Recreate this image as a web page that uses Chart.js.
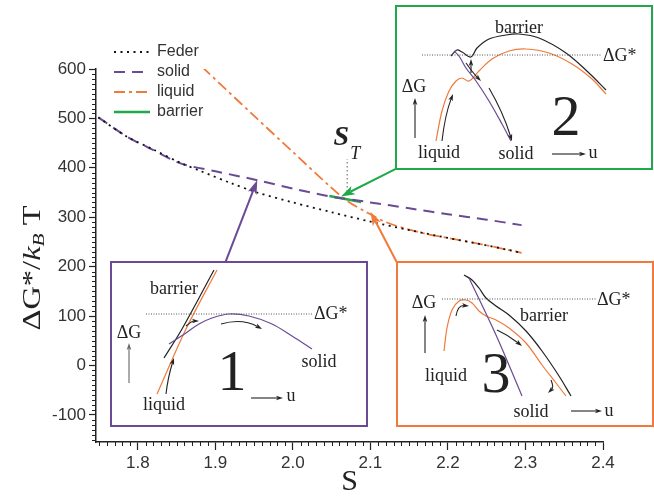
<!DOCTYPE html>
<html>
<head>
<meta charset="utf-8">
<script src="https://cdn.jsdelivr.net/npm/chart.js@4.4.1/dist/chart.umd.min.js"></script>
<style>
  html, body { margin: 0; padding: 0; background: #fff; }
  #wrap { position: relative; width: 654px; height: 496px; overflow: hidden; }
  canvas { position: absolute; }
</style>
</head>
<body>
<div id="wrap">
  <canvas id="main" width="654" height="496" style="left:0;top:0"></canvas>
  <canvas id="in1" width="258" height="166" style="left:110px;top:261px"></canvas>
  <canvas id="in2" width="258" height="165" style="left:395px;top:5px"></canvas>
  <canvas id="in3" width="258" height="166" style="left:396px;top:261px"></canvas>
</div>
<script>
// ---- main plot data ----
const xTicks = [1.8, 1.9, 2.0, 2.1, 2.2, 2.3, 2.4];
const yTicks = [-100, 0, 100, 200, 300, 400, 500, 600];

const sFeder = [1.749, 1.786, 1.82, 1.855, 1.88, 1.92, 1.954, 2.0, 2.05, 2.1, 2.15, 2.2, 2.25, 2.295];
const gFeder = [502, 463, 437, 410, 394, 369, 350, 330, 310, 291, 274, 258, 243, 228];

const sSolid = [1.749, 1.786, 1.816, 1.855, 1.9, 1.954, 2.0, 2.048, 2.1, 2.15, 2.2, 2.25, 2.295];
const gSolid = [502, 463, 439, 409, 393, 375, 358, 342, 330, 318, 306, 295, 284];

const sLiquid = [1.883, 1.95, 2.0, 2.048, 2.07, 2.095, 2.12, 2.147, 2.17, 2.2, 2.25, 2.295];
const gLiquid = [604, 505, 432, 362, 333, 310, 290, 276, 267, 258, 243, 228];

const sBarrier = [2.047, 2.088];
const gBarrier = [343, 331];

const sT = 2.07;
const gSTline = [352, 418];

// arrows from the insets to the curves (S, G)
const arrowTail = [[1.913, 209], [2.134, 399], [2.134, 209]];
const arrowTip  = [[1.954, 375], [2.062, 342], [2.100, 311]];

// ---- inset data (schematic units: u to the right, G up, box corner = 0) ----
const in1SolidU  = [59, 76, 89, 102, 119, 139, 162, 182, 202];
const in1SolidG  = [83, 94, 103, 109, 113, 111, 103, 91, 78];
const in1LiquidU = [47, 76, 107];
const in1LiquidG = [33, 98, 157];
const in1BarrU   = [54, 72, 104];
const in1BarrG   = [69, 98, 157];

const in2LiquidU = [41, 47, 54, 61, 67, 74, 84, 97, 114, 131, 154, 177, 197, 211];
const in2LiquidG = [29, 59, 79, 89, 92, 89, 99, 111, 119, 121, 117, 106, 91, 76];
const in2BarrU   = [56, 62, 67, 76, 82, 94, 111, 124, 144, 171, 194, 211];
const in2BarrG   = [114, 120, 118, 113, 122, 131, 135, 136, 132, 117, 97, 80];
const in2SolidU  = [59, 64, 71, 81, 94, 107, 116];
const in2SolidG  = [119, 114, 102, 89, 69, 46, 29];

const in3LiquidU = [48, 51, 56, 63, 70, 76, 83, 90, 100, 113, 130, 146, 160, 170];
const in3LiquidG = [76, 99, 117, 126, 127, 124, 116, 111, 107, 99, 84, 62, 44, 31];
const in3BarrU   = [68, 76, 83, 90, 100, 113, 130, 146, 163, 175];
const in3BarrG   = [152, 147, 139, 129, 121, 112, 96, 76, 51, 31];
const in3SolidU  = [73, 100, 126];
const in3SolidG  = [149, 92, 31];

const SANS = "'Liberation Sans', Arial, sans-serif";
const SERIF = "'Liberation Serif', 'Times New Roman', serif";
const PURPLE = '#6a4a94';
const ORANGE = '#ef7a3a';
const GREEN = '#1faa4a';
const INK = '#222';

const pts = (xs, ys) => xs.map((x, i) => ({ x, y: ys[i] }));

function arrow(ctx, x0, y0, x1, y1, color, w, head, cx, cy) {
  // optional control point (cx, cy) gives a curved shaft
  const a = cx === undefined ? Math.atan2(y1 - y0, x1 - x0) : Math.atan2(y1 - cy, x1 - cx);
  const bx = x1 - head * 0.75 * Math.cos(a), by = y1 - head * 0.75 * Math.sin(a);
  ctx.save();
  ctx.strokeStyle = color; ctx.fillStyle = color; ctx.lineWidth = w; ctx.setLineDash([]);
  ctx.beginPath();
  ctx.moveTo(x0, y0);
  if (cx === undefined) ctx.lineTo(bx, by); else ctx.quadraticCurveTo(cx, cy, bx, by);
  ctx.stroke();
  ctx.beginPath();
  ctx.moveTo(x1, y1);
  ctx.lineTo(x1 - head * Math.cos(a) + head * 0.33 * Math.sin(a), y1 - head * Math.sin(a) - head * 0.33 * Math.cos(a));
  ctx.lineTo(bx, by);
  ctx.lineTo(x1 - head * Math.cos(a) - head * 0.33 * Math.sin(a), y1 - head * Math.sin(a) + head * 0.33 * Math.cos(a));
  ctx.closePath();
  ctx.fill();
  ctx.restore();
}

// ---- main chart decorations ----
const deco = {
  id: 'deco',
  afterDraw(chart) {
    const ctx = chart.ctx, xs = chart.scales.x, ys = chart.scales.y;
    const { left, bottom } = chart.chartArea;
    ctx.save();
    // minor ticks
    ctx.strokeStyle = INK; ctx.lineWidth = 1;
    ctx.beginPath();
    for (let k = 175; k <= 240; k++) {
      if (k % 10 === 0) continue;
      const px = Math.round(xs.getPixelForValue(k / 100)) + 0.5;
      ctx.moveTo(px, bottom); ctx.lineTo(px, bottom + 4);
    }
    for (let k = -15; k <= 60; k++) {
      if (k % 10 === 0) continue;
      const py = Math.round(ys.getPixelForValue(k * 10)) + 0.5;
      ctx.moveTo(left, py); ctx.lineTo(left - 4, py);
    }
    ctx.stroke();

    // S_T marker
    const xT = xs.getPixelForValue(sT);
    ctx.strokeStyle = '#777'; ctx.lineWidth = 1.2; ctx.setLineDash([1.5, 2.5]);
    ctx.beginPath();
    ctx.moveTo(xT, ys.getPixelForValue(gSTline[0]));
    ctx.lineTo(xT, ys.getPixelForValue(gSTline[1]));
    ctx.stroke();
    ctx.setLineDash([]);
    ctx.fillStyle = INK;
    ctx.textAlign = 'center'; ctx.textBaseline = 'middle';
    ctx.font = `italic bold 28px ${SERIF}`;
    ctx.fillText('S', xT - 6, 138);
    ctx.font = `italic 18px ${SERIF}`;
    ctx.fillText('T', xT + 8, 154);

    // arrows from the insets
    const cols = [PURPLE, GREEN, ORANGE];
    arrowTail.forEach((t, i) => {
      arrow(ctx, xs.getPixelForValue(t[0]), ys.getPixelForValue(t[1]),
        xs.getPixelForValue(arrowTip[i][0]), ys.getPixelForValue(arrowTip[i][1]), cols[i], 2, 14);
    });

    // legend
    ctx.textAlign = 'left'; ctx.textBaseline = 'middle';
    ctx.font = `16px ${SANS}`;
    chart.data.datasets.forEach((ds, i) => {
      const y = 52 + i * 20;
      ctx.strokeStyle = ds.borderColor; ctx.lineWidth = ds.borderWidth;
      ctx.setLineDash(ds.borderDash || []);
      ctx.beginPath(); ctx.moveTo(114, y); ctx.lineTo(150, y); ctx.stroke();
      ctx.setLineDash([]);
      ctx.fillStyle = '#333';
      ctx.fillText(ds.label, 157, y);
    });

    // x title
    ctx.fillStyle = INK;
    ctx.textAlign = 'center'; ctx.textBaseline = 'middle';
    ctx.font = `30px ${SERIF}`;
    ctx.fillText('S', (chart.chartArea.left + chart.chartArea.right) / 2, 482);

    // y title: ΔG*/k_B T
    ctx.translate(33, 268); ctx.rotate(-Math.PI / 2); ctx.scale(1.25, 1);
    const parts = [
      { t: 'ΔG*/', f: `26px ${SERIF}`, dy: 0 },
      { t: 'k', f: `italic 26px ${SERIF}`, dy: 0 },
      { t: 'B', f: `italic 17px ${SERIF}`, dy: 7 },
      { t: ' T', f: `26px ${SERIF}`, dy: 0 }
    ];
    let total = 0;
    parts.forEach(p => { ctx.font = p.f; p.w = ctx.measureText(p.t).width; total += p.w; });
    let cx = -total / 2;
    ctx.textAlign = 'left'; ctx.textBaseline = 'middle';
    parts.forEach(p => { ctx.font = p.f; ctx.fillText(p.t, cx, p.dy); cx += p.w; });
    ctx.restore();
  }
};

new Chart(document.getElementById('main'), {
  type: 'line',
  data: {
    datasets: [
      { label: 'Feder', data: pts(sFeder, gFeder), borderColor: '#111', borderWidth: 1.8, borderDash: [2, 4.5], tension: 0.3 },
      { label: 'solid', data: pts(sSolid, gSolid), borderColor: PURPLE, borderWidth: 2, borderDash: [11, 7], tension: 0.3 },
      { label: 'liquid', data: pts(sLiquid, gLiquid), borderColor: ORANGE, borderWidth: 1.8, borderDash: [11, 4, 3, 4], tension: 0.3 },
      { label: 'barrier', data: pts(sBarrier, gBarrier), borderColor: GREEN, borderWidth: 2.5 }
    ]
  },
  options: {
    responsive: false,
    animation: false,
    elements: { point: { radius: 0 } },
    layout: { padding: { left: 0, right: 51, top: 69, bottom: 0 } },
    plugins: { legend: { display: false }, tooltip: { enabled: false } },
    scales: {
      x: {
        type: 'linear', min: 1.746, max: 2.4,
        afterBuildTicks: s => { s.ticks = xTicks.map(v => ({ value: v })); },
        afterFit: s => { s.height = 54; },
        ticks: { font: { family: SANS, size: 17 }, color: '#333', padding: 3, callback: v => v.toFixed(1) },
        grid: { drawOnChartArea: false, tickLength: 8, color: INK, tickWidth: 1.2 },
        border: { color: INK, width: 1.5 }
      },
      y: {
        min: -155, max: 600,
        afterBuildTicks: s => { s.ticks = yTicks.map(v => ({ value: v })); },
        afterFit: s => { s.width = 96; },
        ticks: { font: { family: SANS, size: 17 }, color: '#333', padding: 3, callback: v => String(v) },
        grid: { drawOnChartArea: false, tickLength: 7, color: INK, tickWidth: 1.2 },
        border: { color: INK, width: 1.5 }
      }
    }
  },
  plugins: [deco]
});

// ---- insets ----
function makeInset(id, color, curves, extras) {
  const el = document.getElementById(id);
  const W = el.width, H = el.height;
  const insetDeco = {
    id: 'insetDeco',
    beforeDraw(chart) {
      const ctx = chart.ctx;
      ctx.save(); ctx.fillStyle = '#fff'; ctx.fillRect(0, 0, W, H); ctx.restore();
    },
    afterDraw(chart) {
      const ctx = chart.ctx, xs = chart.scales.x, ys = chart.scales.y;
      const X = v => xs.getPixelForValue(v), Y = v => ys.getPixelForValue(v);
      ctx.save();
      // dotted ΔG* level
      ctx.strokeStyle = '#555'; ctx.lineWidth = 1; ctx.setLineDash([1, 1.5]);
      ctx.beginPath(); ctx.moveTo(X(extras.level[0]), Y(extras.level[2])); ctx.lineTo(X(extras.level[1]), Y(extras.level[2])); ctx.stroke();
      ctx.setLineDash([]);
      extras.arrows.forEach(a => {
        const c = a.c || INK;
        if (a.length === 4 || a.p) { }
        if (a.mid) arrow(ctx, X(a.from[0]), Y(a.from[1]), X(a.to[0]), Y(a.to[1]), c, 1.1, 7, X(a.mid[0]), Y(a.mid[1]));
        else arrow(ctx, X(a.from[0]), Y(a.from[1]), X(a.to[0]), Y(a.to[1]), c, 1.1, 7);
      });
      ctx.fillStyle = INK; ctx.textBaseline = 'middle';
      extras.labels.forEach(l => {
        ctx.font = `${l.size || 18}px ${SERIF}`;
        ctx.textAlign = l.align || 'center';
        ctx.fillText(l.t, X(l.u), Y(l.g));
      });
      // frame
      ctx.strokeStyle = color; ctx.lineWidth = 2;
      ctx.strokeRect(1, 1, W - 2, H - 2);
      ctx.restore();
    }
  };
  new Chart(el, {
    type: 'scatter',
    data: {
      datasets: curves.map(c => ({
        data: pts(c.u, c.g), borderColor: c.color, borderWidth: 1.2,
        showLine: true, pointRadius: 0, tension: 0.35
      }))
    },
    options: {
      responsive: false, animation: false,
      layout: { padding: 0 },
      plugins: { legend: { display: false }, tooltip: { enabled: false } },
      scales: {
        x: { type: 'linear', display: false, min: 0, max: W },
        y: { type: 'linear', display: false, min: 0, max: H }
      }
    },
    plugins: [insetDeco]
  });
}

makeInset('in1', PURPLE, [
  { u: in1SolidU, g: in1SolidG, color: PURPLE },
  { u: in1LiquidU, g: in1LiquidG, color: ORANGE },
  { u: in1BarrU, g: in1BarrG, color: INK }
], {
  level: [36, 202, 113],
  arrows: [
    { from: [56, 33], mid: [58, 50], to: [64, 69] },
    { from: [111, 103], mid: [132, 109], to: [152, 98] },
    { from: [76, 101], mid: [82, 106], to: [89, 106] },
    { from: [19, 44], to: [19, 84], c: '#666' },
    { from: [141, 29], to: [173, 29] }
  ],
  labels: [
    { t: 'barrier', u: 64, g: 138 },
    { t: 'ΔG*', u: 204, g: 113, align: 'left' },
    { t: 'ΔG', u: 19, g: 94 },
    { t: 'liquid', u: 54, g: 22 },
    { t: '1', u: 122, g: 52, size: 58 },
    { t: 'u', u: 181, g: 31 },
    { t: 'solid', u: 209, g: 65 }
  ]
});

makeInset('in2', GREEN, [
  { u: in2SolidU, g: in2SolidG, color: PURPLE },
  { u: in2LiquidU, g: in2LiquidG, color: ORANGE },
  { u: in2BarrU, g: in2BarrG, color: INK }
], {
  level: [27, 207, 115],
  arrows: [
    { from: [47, 29], mid: [50, 55], to: [58, 76] },
    { from: [94, 82], mid: [108, 58], to: [117, 29] },
    { from: [71, 107], mid: [78, 97], to: [86, 89] },
    { from: [76, 97], to: [76, 111] },
    { from: [20, 32], to: [20, 72] },
    { from: [157, 16], to: [191, 16] }
  ],
  labels: [
    { t: 'barrier', u: 124, g: 142 },
    { t: 'ΔG*', u: 208, g: 114, align: 'left' },
    { t: 'ΔG', u: 19, g: 83 },
    { t: 'liquid', u: 44, g: 17 },
    { t: 'solid', u: 121, g: 16 },
    { t: '2', u: 171, g: 50, size: 58 },
    { t: 'u', u: 198, g: 17 }
  ]
});

makeInset('in3', ORANGE, [
  { u: in3SolidU, g: in3SolidG, color: PURPLE },
  { u: in3LiquidU, g: in3LiquidG, color: ORANGE },
  { u: in3BarrU, g: in3BarrG, color: INK }
], {
  level: [46, 200, 128],
  arrows: [
    { from: [60, 111], mid: [62, 122], to: [73, 121] },
    { from: [101, 97], mid: [112, 92], to: [126, 81] },
    { from: [155, 47], mid: [158, 40], to: [152, 34] },
    { from: [29, 74], to: [29, 112] },
    { from: [175, 16], to: [206, 16] }
  ],
  labels: [
    { t: 'ΔG*', u: 201, g: 127, align: 'left' },
    { t: 'ΔG', u: 28, g: 124 },
    { t: 'barrier', u: 148, g: 111 },
    { t: 'liquid', u: 50, g: 51 },
    { t: '3', u: 100, g: 50, size: 58 },
    { t: 'solid', u: 135, g: 15 },
    { t: 'u', u: 213, g: 16 }
  ]
});
</script>
</body>
</html>
